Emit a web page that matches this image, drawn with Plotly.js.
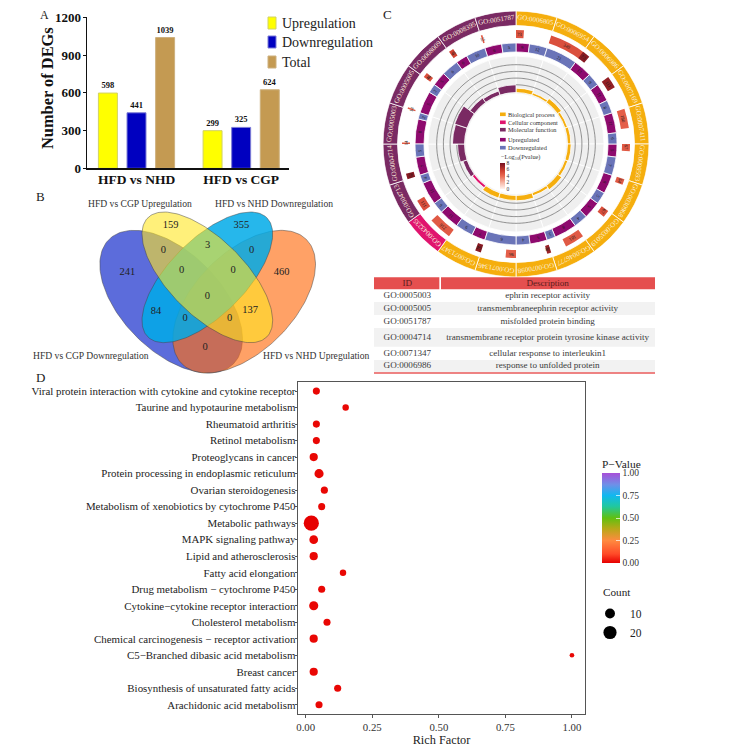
<!DOCTYPE html>
<html><head><meta charset="utf-8">
<script src="https://cdn.plot.ly/plotly-3.0.1.min.js"></script>
<style>html,body{margin:0;padding:0;background:#fff}</style></head>
<body><div id="chart" style="width:729px;height:747px"></div>
<script>
// ---------- Panel A data ----------
const degGroups = ["HFD vs NHD", "HFD vs CGP"];
const degUp = [598, 299];
const degDown = [441, 325];
const degTotal = [1039, 624];
const degLegend = ["Upregulation", "Downregulation", "Total"];
// ---------- Panel B data ----------
const vennSetNames = ["HFD vs CGP Downregulation", "HFD vs NHD Upregulation", "HFD vs NHD Downregulation", "HFD vs CGP Upregulation"];
const vennCounts = [241, 159, 355, 460, 0, 3, 0, 0, 0, 0, 84, 137, 0, 0, 0];
const vennCountX = [322, 452, 664, 785, 430, 563, 695, 485, 639, 562, 408, 690, 495, 629, 555];
const vennCountY = [247, 107, 107, 247, 180, 165, 180, 242, 242, 318, 365, 362, 385, 385, 472];
const vennCx = [453.5, 672.5, 562, 562];
const vennCy = [335, 335, 262, 262];
const vennMajor = [264, 264, 252.6, 252.6];
const vennMinor = [148, 148, 114, 114];
const vennAngle = [45, -45, -45, 45];
// ---------- Panel C data ----------
const goIds = ["GO:0006805","GO:0006954","GO:0006986","GO:0007169","GO:0007411","GO:0009593","GO:0030968","GO:0035019","GO:0046777","GO:0070098","GO:0071346","GO:0071347","GO:0043235","GO:0004713","GO:0004714","GO:0005003","GO:0005005","GO:0008009","GO:0008395","GO:0051787"];
const goClass = ["BP","BP","BP","BP","BP","BP","BP","BP","BP","BP","BP","BP","CC","MF","MF","MF","MF","MF","MF","MF"];
const goGeneCount = [73,349,73,111,180,67,54,67,181,38,96,54,216,111,52,14,14,46,46,15];
const goLogP = [4.8,5,7.5,7.2,4.4,4.6,4.6,5,4.6,7,4.4,7.5,4.6,5,7.5,4.6,4.6,5,5.5,4.6];
const goUp = [9,0,13,11,11,5,8,5,8,5,0,7,11,11,7,8,5,5,6,6];
const goDown = [12,21,9,8,6,7,5,4,3,4,6,9,6,4,5,2,2,6,10,5];
const goEnrich = [1,0.4,1.1,0.5,0.7,0.8,0.6,1.2,0.6,1.3,1.2,1.3,0.5,1,1.8,3.3,3.6,1.3,1,2];
const goGridValues = [2,4,6,8];
const goScaleTicks = [0,2,4,6,8];
const goClassNames = ["Biological process","Cellular component","Molecular function"];
const goRegNames = ["Upregulated","Downregulated"];
// ---------- Table data ----------
const tableIds = ["GO:0005003","GO:0005005","GO:0051787","GO:0004714","GO:0071347","GO:0006986"];
const tableDesc = ["ephrin receptor activity","transmembraneephrin receptor activity","misfolded protein binding","transmembrane receptor protein tyrosine kinase activity","cellular response to interleukin1","response to unfolded protein"];
// ---------- Panel D data ----------
const pathways = ["Viral protein interaction with cytokine and cytokine receptor","Taurine and hypotaurine metabolism","Rheumatoid arthritis","Retinol metabolism","Proteoglycans in cancer","Protein processing in endoplasmic reticulum","Ovarian steroidogenesis","Metabolism of xenobiotics by cytochrome P450","Metabolic pathways","MAPK signaling pathway","Lipid and atherosclerosis","Fatty acid elongation","Drug metabolism \u2212 cytochrome P450","Cytokine\u2212cytokine receptor interaction","Cholesterol metabolism","Chemical carcinogenesis \u2212 receptor activation","C5\u2212Branched dibasic acid metabolism","Breast cancer","Biosynthesis of unsaturated fatty acids","Arachidonic acid metabolism"];
const richFactor = [0.04,0.15,0.04,0.04,0.03,0.05,0.07,0.06,0.021,0.03,0.03,0.14,0.06,0.03,0.08,0.03,1.0,0.03,0.12,0.05];
const pathCount = [4,3,4,4,6,8,4,4,28,7,6,3,4,8,4,6,1,6,4,4];
const pathP = [0.01,0.01,0.01,0.01,0.01,0.01,0.01,0.01,0.0,0.01,0.01,0.01,0.01,0.01,0.01,0.01,0.01,0.01,0.01,0.01];
const countLegend = [10, 20];

// ---------- helpers ----------
const W = 729, H = 747;
const SERIF = "Liberation Serif";
const px = x => x / W, py = y => 1 - y / H;
const dom = (a, b) => [a / W, b / W];
const domY = (top, bot) => [1 - bot / H, 1 - top / H];
const traces = [], annotations = [], shapes = [];
const note = (x, y, text, size, o = {}) => annotations.push(Object.assign({xref:"paper", yref:"paper", x:px(x), y:py(y), text, showarrow:false, borderpad:0,
  font:{family:SERIF, size, color:o.color || "#222", weight:o.weight || 400}, xanchor:o.xanchor || "left", yanchor:"middle", textangle:o.angle || 0}));

// ---------- Panel A ----------
const barColors = ["#ffff00", "#0000c0", "#c49a52"];
const barLines = ["#d2d264", "#7c7cd6", "#cdb07e"];
[degUp, degDown, degTotal].forEach((vals, i) => traces.push({type:"bar", x:degGroups, y:vals, name:degLegend[i], text:vals.map(String), textposition:"outside", cliponaxis:false,
  textangle:0, textfont:{family:SERIF, size:8.5, color:"#111", weight:700}, constraintext:"none",
  marker:{color:barColors[i], line:{color:barLines[i], width:1}}, hoverinfo:"skip", showlegend:false, xaxis:"x", yaxis:"y"}));
[23, 42, 62].forEach((y, i) => {
  shapes.push({type:"rect", xref:"paper", yref:"paper", x0:px(268), x1:px(276), y0:py(y-6), y1:py(y+6), fillcolor:barColors[i], line:{color:barLines[i], width:1}});
  note(281, y, degLegend[i], 14);
});
note(47, 88, "Number of DEGs", 16.4, {xanchor:"center", angle:-90, color:"#111", weight:700});

// ---------- Panel B ----------
const vennFill = ["rgba(51,71,210,0.8)", "rgba(255,110,20,0.65)", "rgba(0,170,232,0.85)", "rgba(255,230,34,0.6)"];
[0,1,2,3].forEach(i => {
  const xs = [], ys = [], t = vennAngle[i] * Math.PI / 180;
  for (let k = 0; k <= 180; k++) {
    const u = k / 180 * 2 * Math.PI, ex = vennMajor[i] * Math.cos(u), ey = vennMinor[i] * Math.sin(u);
    xs.push(vennCx[i] + ex * Math.cos(t) - ey * Math.sin(t));
    ys.push(vennCy[i] + ex * Math.sin(t) + ey * Math.cos(t));
  }
  traces.push({type:"scatter", mode:"lines", x:xs, y:ys, fill:"toself", fillcolor:vennFill[i], line:{color:"rgba(70,70,70,0.7)", width:0.7}, hoverinfo:"skip", showlegend:false, xaxis:"x3", yaxis:"y3"});
});
traces.push({type:"scatter", mode:"text", x:vennCountX, y:vennCountY, text:vennCounts.map(String), textposition:"middle center", textfont:{family:SERIF, size:10.5, color:"#222"}, hoverinfo:"skip", showlegend:false, xaxis:"x3", yaxis:"y3"});
note(91, 355.7, vennSetNames[0], 9.6, {xanchor:"center", color:"#333"});
note(316, 355.7, vennSetNames[1], 9.6, {xanchor:"center", color:"#333"});
note(274, 203, vennSetNames[2], 9.6, {xanchor:"center", color:"#333"});
note(140, 203, vennSetNames[3], 9.6, {xanchor:"center", color:"#333"});

// ---------- Panel C ----------
const CX = 516, CY = 144, R = 133, SEC = 18;
const polarPoint = (theta, r) => { const a = theta * Math.PI / 180; return [CX + r * Math.sin(a), CY - r * Math.cos(a)]; };
const polarNote = (theta, r, text, size, color) => { const [x, y] = polarPoint(theta, r); note(x, y, text, size, {xanchor:"center", color, angle:theta}); };
const classColor = {BP:"#f5ae0e", CC:"#e0146e", MF:"#7a2a63"};
const secCenters = goIds.map((_, i) => i * SEC + SEC / 2);
const bar = (theta, width, base, r, color, extra) => Object.assign({type:"barpolar", theta, width, base, r, subplot:"polar", hoverinfo:"skip", showlegend:false,
  marker:{color, line:{color:"#fff", width:0.8}}}, extra || {});
// grey disc
traces.push(bar(secCenters, secCenters.map(() => SEC), secCenters.map(() => 50), secCenters.map(() => 38), "#efefef"));
// grid circles, broken where an enrichment bar rises past them
const ENR_BASE = 52.5, ENR_K = 3.35;
goGridValues.forEach(v => {
  const th = [], rr = [];
  for (let d = 0; d <= 360; d++) { th.push(d); rr.push(goEnrich[Math.floor((d % 360) / SEC)] >= v ? null : ENR_BASE + v * ENR_K); }
  traces.push({type:"scatterpolar", mode:"lines", theta:th, r:rr, subplot:"polar", line:{color:"#666", width:0.7}, hoverinfo:"skip", showlegend:false});
});
// enrichment bars
traces.push(bar(secCenters, secCenters.map(() => SEC), secCenters.map(() => ENR_BASE - 1), goEnrich.map(v => v * ENR_K + 1), goClass.map(c => classColor[c])));
// outer id ring
traces.push(bar(secCenters, secCenters.map(() => SEC), secCenters.map(() => 118.5), secCenters.map(() => 14.5), goClass.map(c => classColor[c])));
goIds.forEach((id, i) => polarNote(secCenters[i], 125.5, id, 7, "#fbeedd"));
// up / down ring
const upTheta = [], upW = [], downTheta = [], downW = [];
goUp.forEach((u, i) => {
  const t = u + goDown[i], wu = SEC * u / t, wd = SEC * goDown[i] / t;
  upTheta.push(i * SEC + wu / 2); upW.push(wu); downTheta.push(i * SEC + wu + wd / 2); downW.push(wd);
  if (u) polarNote(upTheta[i], 96.5, String(u), 4.5, "#1a1a1a");
  polarNote(downTheta[i], 96.5, String(goDown[i]), 4.5, "#1a1a1a");
});
const regColors = ["#8e0a6e", "#6a74b8"];
traces.push(bar(upTheta, upW, upTheta.map(() => 92), upTheta.map(() => 9), regColors[0]));
traces.push(bar(downTheta, downW, downTheta.map(() => 92), downTheta.map(() => 9), regColors[1]));
// gene-count blocks coloured by -log10(p)
const blockDeg = 0.055;
const blockW = goGeneCount.map(c => c * blockDeg);
const blockTheta = blockW.map((w, i) => i * SEC + w / 2);
traces.push({type:"barpolar", theta:blockTheta, width:blockW, base:blockTheta.map(() => 106), r:blockTheta.map(() => 8), subplot:"polar", hoverinfo:"skip", showlegend:false,
  marker:{color:goLogP, cmin:0, cmax:8, colorscale:[[0,"#fff4f0"],[0.25,"#f6b5a4"],[0.5,"#ea6a52"],[0.7,"#d04030"],[1,"#741020"]], line:{width:0}, showscale:true,
    colorbar:{x:px(500), xanchor:"left", xpad:0, y:py(163), yanchor:"top", ypad:0, len:26, lenmode:"pixels", thickness:5, thicknessmode:"pixels", outlinewidth:0,
      tickmode:"array", tickvals:goScaleTicks, ticktext:goScaleTicks.map(String), ticks:"", tickfont:{family:SERIF, size:5.5, color:"#333"}}}});
goGeneCount.forEach((c, i) => polarNote(blockTheta[i], 110, String(c), 4.8, "#1a1a1a"));
// centre legend
[114.3, 122.3, 129.7].forEach((y, i) => {
  shapes.push({type:"rect", xref:"paper", yref:"paper", x0:px(500), x1:px(505.7), y0:py(y-1.8), y1:py(y+1.8), fillcolor:["#f5ae0e","#e0146e","#7a2a63"][i], line:{width:0}});
  note(507.3, y, goClassNames[i], 6.3, {color:"#333"});
});
[139.7, 147.7].forEach((y, i) => {
  shapes.push({type:"rect", xref:"paper", yref:"paper", x0:px(500), x1:px(505.7), y0:py(y-1.8), y1:py(y+1.8), fillcolor:regColors[i], line:{width:0}});
  note(507.3, y, goRegNames[i], 6.3, {color:"#333"});
});
note(500, 156.7, "\u2212Log<sub>10</sub>(Pvalue)", 6.3, {color:"#333"});

// ---------- Table ----------
const rowEdges = [22, 58, 96, 135, 174, 230, 270, 307];
const ROW_L = 12, ROW_R = 855;
const box = (x0, x1, y0, y1, c) => shapes.push({type:"rect", xref:"x4", yref:"y4", x0, x1, y0, y1, fillcolor:c, line:{width:0}, layer:"below"});
box(ROW_L, 208, rowEdges[0], rowEdges[1], "#e54f4f");
box(213, ROW_R, rowEdges[0], rowEdges[1], "#e54f4f");
tableIds.forEach((_, i) => { if (i % 2) box(ROW_L, ROW_R, rowEdges[i+1], rowEdges[i+2], "#f2f2f2"); });
box(ROW_L, ROW_R, 307, 311, "#e85a5a");
const rowMid = tableIds.map((_, i) => (rowEdges[i+1] + rowEdges[i+2]) / 2);
const cellFont = {family:SERIF, size:9.1, color:"#3a3a3a"};
traces.push({type:"scatter", mode:"text", x:[112, 533], y:[40, 40], text:["ID", "Description"], textposition:"middle center", textfont:{family:SERIF, size:9.1, color:"#5a1c1c"}, hoverinfo:"skip", showlegend:false, xaxis:"x4", yaxis:"y4"});
traces.push({type:"scatter", mode:"text", x:tableIds.map(() => 112), y:rowMid, text:tableIds, textposition:"middle center", textfont:cellFont, hoverinfo:"skip", showlegend:false, xaxis:"x4", yaxis:"y4"});
traces.push({type:"scatter", mode:"text", x:tableDesc.map(() => 533), y:rowMid, text:tableDesc, textposition:"middle center", textfont:cellFont, hoverinfo:"skip", showlegend:false, xaxis:"x4", yaxis:"y4"});

// ---------- Panel D ----------
const dotSize = c => 2.2 + 2.45 * Math.sqrt(c);
traces.push({type:"scatter", mode:"markers", x:richFactor, y:pathways, xaxis:"x2", yaxis:"y2", hoverinfo:"skip", showlegend:false,
  marker:{size:pathCount.map(dotSize), sizemode:"diameter", opacity:1, color:pathP, cmin:0, cmax:1, line:{width:0},
    colorscale:[[0,"#e60000"],[0.1,"#ff4a28"],[0.25,"#ff8a40"],[0.38,"#b8a818"],[0.5,"#60c010"],[0.63,"#20c8a0"],[0.75,"#10b8f0"],[0.87,"#6f90e8"],[1,"#a84fd8"]],
    showscale:true, colorbar:{x:px(602), xanchor:"left", xpad:0, y:py(456), yanchor:"top", ypad:0, len:107, lenmode:"pixels", thickness:18, thicknessmode:"pixels", outlinewidth:0,
      tickmode:"array", tickvals:[0,0.25,0.5,0.75,1], ticktext:["0.00","0.25","0.50","0.75","1.00"], ticks:"inside", ticklen:4, tickcolor:"#fff", tickwidth:0.7,
      tickfont:{family:SERIF, size:9.5, color:"#333"}, title:{text:"P\u2212Value", side:"top", font:{family:SERIF, size:11.4, color:"#222"}}}}});
countLegend.forEach(c => traces.push({type:"scatter", mode:"markers", name:String(c), x:[-5], y:[pathways[0]], xaxis:"x2", yaxis:"y2", legendgroup:"count", hoverinfo:"skip",
  marker:{size:dotSize(c), color:"#000", opacity:1}}));
note(602, 592, "Count", 11.2);

// panel letters
note(39, 15, "A", 12); note(35, 197, "B", 13); note(382, 14, "C", 13); note(35, 377.5, "D", 13);

const layout = {
  width:W, height:H, autosize:false, margin:{l:0,r:0,t:0,b:0}, paper_bgcolor:"#fff", plot_bgcolor:"rgba(0,0,0,0)",
  font:{family:SERIF, color:"#222"}, barmode:"group", bargap:0.18, bargroupgap:0.337,
  showlegend:true,
  legend:{x:px(590), xanchor:"left", y:py(599), yanchor:"top", bgcolor:"rgba(0,0,0,0)", font:{family:SERIF, size:11.5, color:"#222"}, traceorder:"normal", tracegroupgap:0, itemwidth:30},
  xaxis:{domain:dom(87,289), anchor:"y", range:[-0.473,1.457], type:"category", showline:true, linecolor:"#111", linewidth:1.3, ticks:"outside", ticklen:0, ticklabelstandoff:-2, showgrid:false, zeroline:false,
    tickfont:{family:SERIF, size:13.5, color:"#111", weight:700}, tickangle:0, fixedrange:true},
  yaxis:{domain:domY(17.3,168.3), anchor:"x", range:[0,1200], tickvals:[0,300,600,900,1200], showline:true, linecolor:"#111", linewidth:1.3, ticks:"outside", ticklen:3, ticklabelstandoff:-1, tickcolor:"#111", showgrid:false, zeroline:false,
    tickfont:{family:SERIF, size:13, color:"#111", weight:700}, fixedrange:true},
  xaxis2:{domain:dom(298,585), anchor:"y2", range:[-0.029,1.049], tickvals:[0,0.25,0.5,0.75,1], ticktext:["0.00","0.25","0.50","0.75","1.00"], showline:true, mirror:true, linecolor:"#555", linewidth:1.3, ticks:"outside", ticklen:3, tickcolor:"#555", showgrid:false, zeroline:false,
    tickfont:{family:SERIF, size:10.8, color:"#333"}, title:{text:"Rich Factor", font:{family:SERIF, size:12.3, color:"#222"}, standoff:2}, fixedrange:true},
  yaxis2:{domain:domY(382,714), anchor:"x2", type:"category", categoryorder:"array", categoryarray:pathways.slice().reverse(), range:[-0.56,19.55], showline:true, mirror:true, linecolor:"#555", linewidth:1.3, ticks:"outside", ticklen:2, ticklabelstandoff:-3, tickcolor:"#555", showgrid:false, zeroline:false,
    tickfont:{family:SERIF, size:10.9, color:"#222"}, fixedrange:true, tickmode:"array", tickvals:pathways, ticktext:pathways},
  xaxis3:{domain:dom(20,360), anchor:"y3", range:[0,1020], visible:false, fixedrange:true},
  yaxis3:{domain:domY(190,380), anchor:"x3", range:[570,0], visible:false, fixedrange:true},
  xaxis4:{domain:dom(370,670), anchor:"y4", range:[0,900], visible:false, fixedrange:true},
  yaxis4:{domain:domY(270,380), anchor:"x4", range:[330,0], visible:false, fixedrange:true},
  polar:{domain:{x:dom(CX-R,CX+R), y:domY(CY-R,CY+R)}, bgcolor:"rgba(0,0,0,0)", barmode:"overlay", bargap:0,
    radialaxis:{range:[0,R], visible:false}, angularaxis:{direction:"clockwise", rotation:90, visible:false}},
  annotations, shapes
};
Plotly.newPlot("chart", traces, layout, {displayModeBar:false, staticPlot:true});
</script></body></html>
